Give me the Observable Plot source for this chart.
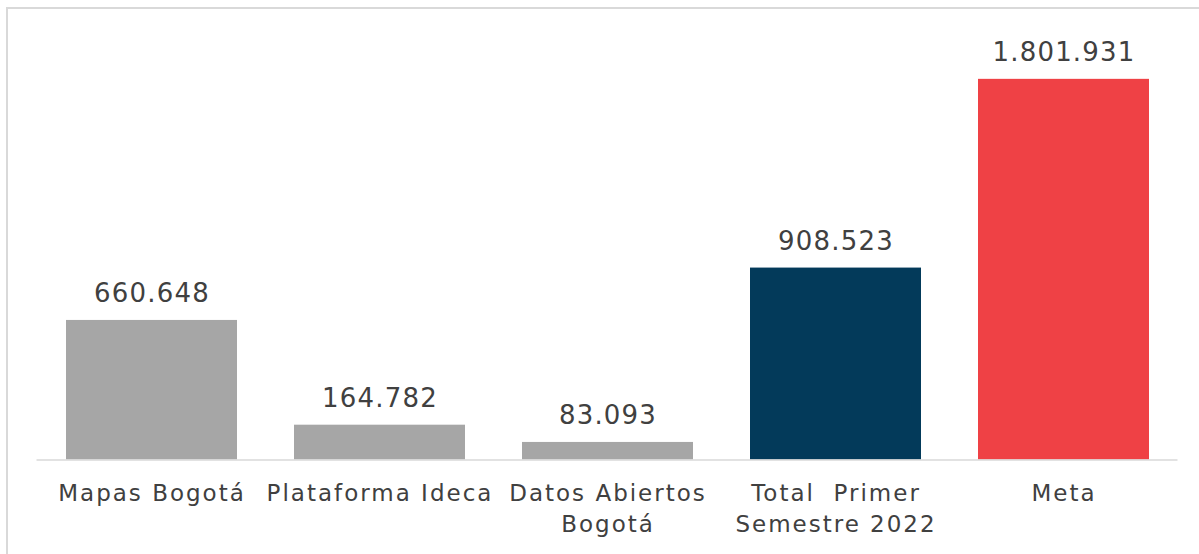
<!DOCTYPE html>
<html>
<head>
<meta charset="utf-8">
<script src="https://cdn.jsdelivr.net/npm/d3@7"></script>
<script src="https://cdn.jsdelivr.net/npm/@observablehq/plot@0.6"></script>
<style>
  html, body { margin: 0; padding: 0; background: #fff; overflow: hidden; }
  #wrap { position: relative; width: 1199px; height: 554px; overflow: hidden; }
  #frame { position: absolute; left: 6px; top: 7px; width: 1400px; height: 700px;
           border-top: 2px solid #d9d9d9; border-left: 2px solid #d9d9d9; }
  #chart { position: absolute; left: 0; top: 0; }
  #chart svg text { letter-spacing: 1.2px; }
  #chart svg g[aria-label="x-axis tick label"] text { letter-spacing: 2px; }
</style>
</head>
<body>
<div id="wrap"><div id="frame"></div><div id="chart"></div></div>
<script>
const categories = ["Mapas Bogotá", "Plataforma Ideca", "Datos Abiertos Bogotá", "Total  Primer Semestre 2022", "Meta"];
const tickLabels = ["Mapas Bogotá", "Plataforma Ideca", "Datos Abiertos\nBogotá", "Total  Primer\nSemestre 2022", "Meta"];
const values = [660648, 164782, 83093, 908523, 1801931];
const barColors = ["#a6a6a6", "#a6a6a6", "#a6a6a6", "#033a5a", "#ef4145"];

const data = categories.map((c, i) => ({category: c, value: values[i], color: barColors[i]}));
const fmt = d3.formatLocale({thousands: ".", grouping: [3], decimal: ",", currency: ["", ""]}).format(",d");

const chart = Plot.plot({
  width: 1199,
  height: 554,
  marginLeft: 36.5,
  marginRight: 21.5,
  marginTop: 37,
  marginBottom: 94.5,
  style: {fontFamily: "DejaVu Sans", color: "#404040", background: "transparent"},
  x: {domain: categories, paddingInner: 0.25, paddingOuter: 0.125, label: null},
  y: {domain: [0, 2000000], axis: null},
  marks: [
    Plot.barY(data, {x: "category", y: "value", fill: "color"}),
    Plot.ruleY([0], {stroke: "#d9d9d9", strokeWidth: 1.5}),
    Plot.text(data, {x: "category", y: "value", text: d => fmt(d.value), lineAnchor: "bottom", dy: -18, fontSize: 26, fill: "#404040"}),
    Plot.axisX({tickSize: 0, tickPadding: 19.5, fontSize: 23, lineHeight: 1.33, fill: "#404040",
      tickFormat: d => tickLabels[categories.indexOf(d)], label: null})
  ]
});
document.getElementById("chart").appendChild(chart);
</script>
</body>
</html>
